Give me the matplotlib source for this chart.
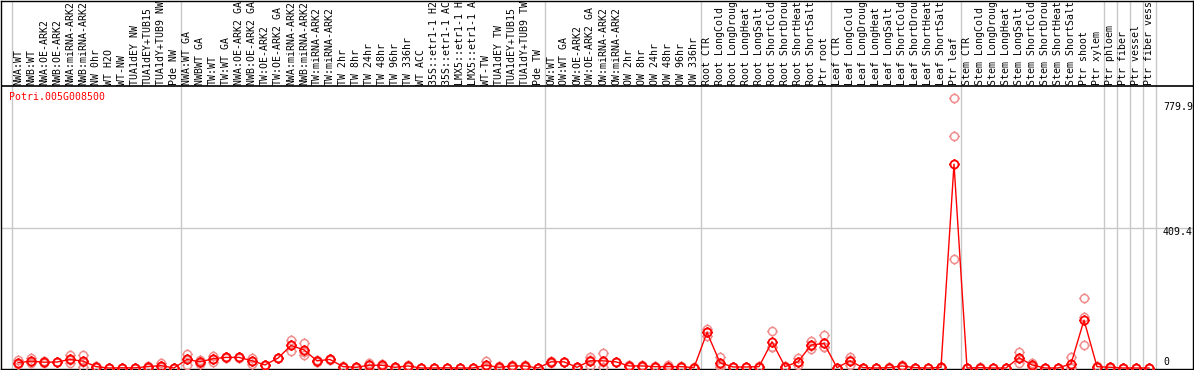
import matplotlib
matplotlib.use("Agg")
import matplotlib.pyplot as plt
import numpy as np
from matplotlib.path import Path

# ---------------- data ----------------
gene = "Potri.005G008500"

labels = [
    "NWA:WT", "NWB:WT", "NWA:OE-ARK2", "NWB:OE-ARK2", "NWA:miRNA-ARK2", "NWB:miRNA-ARK2",
    "NW 0hr", "WT H2O", "WT-NW", "TUA1dEY NW", "TUA1dEY+TUB15 NW", "TUA1dY+TUB9 NW", "Pde NW",
    "NWA:WT GA", "NWBWT GA", "TW:WT", "TW:WT GA", "NWA:OE-ARK2 GA", "NWB:OE-ARK2 GA",
    "TW:OE-ARK2", "TW:OE-ARK2 GA", "NWA:miRNA-ARK2", "NWB:miRNA-ARK2", "TW:miRNA-ARK2",
    "TW:miRNA-ARK2", "TW 2hr", "TW 8hr", "TW 24hr", "TW 48hr", "TW 96hr", "TW 336hr",
    "WT ACC", "35S::etr1-1 H2O", "35S::etr1-1 ACC", "LMX5::etr1-1 H2O", "LMX5::etr1-1 ACC",
    "WT-TW", "TUA1dEY TW", "TUA1dEY+TUB15 TW", "TUA1dY+TUB9 TW", "Pde TW",
    "OW:WT", "OW:WT GA", "OW:OE-ARK2", "OW:OE-ARK2 GA", "OW:miRNA-ARK2", "OW:miRNA-ARK2",
    "OW 2hr", "OW 8hr", "OW 24hr", "OW 48hr", "OW 96hr", "OW 336hr",
    "Root CTR", "Root LongCold", "Root LongDrought", "Root LongHeat", "Root LongSalt",
    "Root ShortCold", "Root ShortDrought", "Root ShortHeat", "Root ShortSalt", "Ptr root",
    "Leaf CTR", "Leaf LongCold", "Leaf LongDrought", "Leaf LongHeat", "Leaf LongSalt",
    "Leaf ShortCold", "Leaf ShortDrought", "Leaf ShortHeat", "Leaf ShortSalt", "Ptr leaf",
    "Stem CTR", "Stem LongCold", "Stem LongDrought", "Stem LongHeat", "Stem LongSalt",
    "Stem ShortCold", "Stem ShortDrought", "Stem ShortHeat", "Stem ShortSalt", "Ptr shoot",
    "Ptr xylem", "Ptr phloem", "Ptr fiber", "Ptr vessel", "Ptr fiber vessel",
]

means = [
    15.5, 20, 17, 17.5, 25, 20, 4, 0, 0.5, 0.5, 4, 7, 0,
    25, 18, 27, 31, 31, 21, 9, 29, 66, 53, 21, 25, 4, 2, 8, 8, 2, 6, 0, 0, 0.5, 0, 0, 8, 2, 6, 6, 0,
    18, 18, 2, 21, 21, 18, 6, 6, 4, 4, 4, 1,
    104, 15.5, 3, 3, 4, 77, 4, 18, 67, 72,
    1, 21, 1, 0, 1, 6, 1, 0, 2, 596,
    0, 1, 0, 0, 30, 9, 0, 0, 12, 140,
    4, 2, 0, 0, 0,
]

rep1 = [
    23, 28, 20, 18, 38, 38, 6, 0, 1, 1, 7, 14, 0,
    41, 24, 35, 33, 33, 30, 10, 29, 82, 73, 24, 27, 5, 4, 15, 12, 3, 9, 0, 0, 1, 0, 0, 20, 6, 9, 9, 0,
    20, 19, 3, 33, 43, 19, 8, 8, 5, 10, 5, 2,
    114, 33, 4, 4, 5, 109, 5, 28, 80, 96,
    1, 31, 1, 0, 2, 8, 1, 0, 3, 789,
    0, 2, 0, 0, 47, 15, 0, 0, 33, 204,
    6, 3, 0, 0, 0,
]
rep2 = [
    12, 18, 17, 17.5, 23, 18, 4, 0, 0.5, 0.5, 4, 5, 0,
    25, 18, 27, 31, 31, 21, 9, 29, 66, 48, 21, 25, 4, 2, 8, 8, 2, 6, 0, 0, 0.5, 0, 0, 4, 0, 6, 6, 0,
    18, 18, 2, 23, 17, 18, 6, 6, 4, 2, 4, 1,
    104, 10, 3, 3, 4, 62, 4, 18, 64, 60,
    1, 22, 1, 0, 1, 6, 1, 0, 2, 677,
    0, 1, 0, 0, 30, 8, 0, 0, 3, 148,
    4, 2, 0, 0, 0,
]
rep3 = [
    11.5, 14, 14, 17, 14, 4, 2, 0, 0, 0, 1, 2, 0,
    9, 12, 19, 29, 29, 12, 8, 29, 50, 38, 18, 23, 3, 0, 1, 4, 1, 3, 0, 0, 0, 0, 0, 0, 0, 3, 3, 0,
    16, 17, 1, 7, 3, 17, 4, 4, 3, 0, 3, 0,
    94, 4, 2, 2, 3, 60, 3, 8, 57, 60,
    1, 10, 1, 0, 0, 4, 1, 0, 1, 318,
    0, 0, 0, 0, 15, 4, 0, 0, 0, 67,
    2, 1, 0, 0, 0,
]

yticks_vals = [779.9, 409.4, 0]
ytick_labels = ["779.9", "409.4", "0"]
separators = [0, 13, 41, 53, 63, 73, 84, 85, 86, 87, 88]

# ---------------- layout helpers (pixel geometry) ----------------
W, H = 1194, 370
COL0, COLW = 18.0, 13.0          # pixel centre of first column, column pitch
Y0, K = 368.0, 140.0 / 409.4     # pixel row of value 0, pixels per unit
MAXCH = 14                       # characters that fit in the header band

def px2x(px):
    return (px - COL0) / COLW

def py2v(py):
    return (Y0 - py) / K

MONO = "DejaVu Sans Mono"
FS = 7.1
RED = "#ff0000"
PINK = "#f08c8c"
GREY = "#c8c8c8"

fig = plt.figure(figsize=(W / 100, H / 100), dpi=100)
l_px, r_px, t_px, b_px = 1.0, 1193.0, 0.5, 369.0
ax = fig.add_axes([l_px / W, (H - b_px) / H, (r_px - l_px) / W, (b_px - t_px) / H])
ax.set_xlim(px2x(l_px), px2x(r_px))
ax.set_ylim(py2v(b_px), py2v(t_px))
ax.set_xticks([])
ax.set_yticks([])
for s in ax.spines.values():
    s.set_color("black")
    s.set_linewidth(1.0)

# custom marker: ring with four short ticks
circ = Path.unit_circle()
tick_v, tick_c = [], []
for ang in (0, 90, 180, 270):
    a = np.deg2rad(ang)
    tick_v += [(np.cos(a) * 1.0, np.sin(a) * 1.0), (np.cos(a) * 1.3, np.sin(a) * 1.3)]
    tick_c += [Path.MOVETO, Path.LINETO]
ticks = Path(tick_v, tick_c)
marker = Path.make_compound_path(circ, ticks)

# grid / separators
for b in separators:
    ax.axvline(b - 0.5, color=GREY, lw=1.0, zorder=1)
ax.axhline(409.4, color=GREY, lw=1.0, zorder=1)
ax.axhline(py2v(86), color="black", lw=1.2, zorder=3)

x = np.arange(len(means))
for reps in (rep1, rep2, rep3):
    ax.plot(x, reps, linestyle="none", marker=marker, ms=7.5, mfc="none",
            mec=PINK, mew=1.1, zorder=4, clip_on=True)
ax.plot(x, means, color=RED, lw=1.0, zorder=5)
ax.plot(x, means, linestyle="none", marker=marker, ms=7.5, mfc="none",
        mec=RED, mew=1.3, zorder=6)

# column labels (the header band shows only the first characters)
for i, lab in enumerate(labels):
    ax.text(i, py2v(84.5), lab[:MAXCH].rstrip(), rotation=90, ha="center", va="bottom",
            fontsize=FS, family=MONO, color="black", clip_on=False)

# gene name
ax.text(px2x(9), py2v(97), gene, ha="left", va="center", fontsize=FS,
        family=MONO, color=RED)

# value labels at right
label_rows = [107, 232, 362]
for v, t, py in zip(yticks_vals, ytick_labels, label_rows):
    ax.text(px2x(1163), py2v(py), t, ha="left", va="center", fontsize=FS,
            family=MONO, color="black")

fig.savefig("out.png", dpi=100)
